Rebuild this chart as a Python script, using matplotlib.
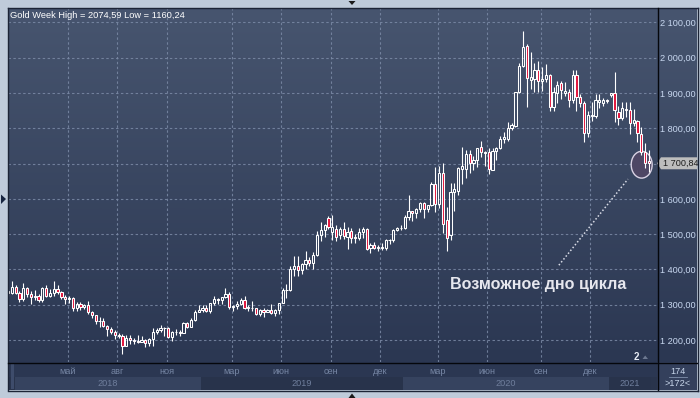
import numpy as np
import pandas as pd
import matplotlib
matplotlib.use("Agg")
import matplotlib.pyplot as plt
from matplotlib.patches import Rectangle, Ellipse, Polygon
from matplotlib.transforms import blended_transform_factory

plt.rcParams['font.family'] = ['Liberation Sans', 'DejaVu Sans']

# ---------------- data (weekly OHLC) ----------------
bar_dates = (list(pd.date_range('2018-01-15', '2019-12-30', freq='W-MON'))
             + [pd.Timestamp('2019-12-31'), pd.Timestamp('2020-01-02')]
             + list(pd.date_range('2020-01-06', '2020-12-28', freq='W-MON'))
             + [pd.Timestamp('2020-12-31'), pd.Timestamp('2021-01-01')]
             + list(pd.date_range('2021-01-04', '2021-03-08', freq='W-MON')))

opens = [
    # 2018
    1338, 1332, 1349, 1333, 1315, 1347, 1330, 1322, 1324, 1313,
    1347, 1325, 1332, 1345, 1336, 1323, 1315, 1320, 1291, 1301,
    1294, 1299, 1278, 1270, 1253, 1255, 1241, 1230, 1223, 1214,
    1212, 1184, 1206, 1201, 1197, 1194, 1200, 1191, 1203, 1222,
    1227, 1235, 1233, 1209, 1222, 1222, 1221, 1248, 1238, 1257,
    1280,
    # 2019
    1286, 1290, 1282, 1304, 1317, 1314, 1322, 1329, 1293, 1297,
    1302, 1312, 1292, 1291, 1290, 1275, 1286, 1280, 1286, 1277,
    1284, 1305, 1341, 1341, 1400, 1409, 1399, 1416, 1426, 1419,
    1440, 1497, 1513, 1546, 1507, 1516, 1497, 1516, 1493, 1509,
    1490, 1488, 1507, 1514, 1460, 1469, 1461, 1462, 1460, 1482,
    1484, 1512, 1517, 1518,
    # 2020 - 2021
    1550, 1565, 1559, 1571, 1589, 1570, 1584, 1643, 1586, 1674,
    1540, 1497, 1620, 1622, 1684, 1684, 1727, 1702, 1711, 1746,
    1730, 1733, 1682, 1736, 1743, 1771, 1771, 1800, 1806, 1904,
    1977, 2033, 1937, 1940, 1964, 1934, 1940, 1951, 1860, 1899,
    1927, 1899, 1904, 1880, 1951, 1890, 1871, 1786, 1836, 1836,
    1875, 1871, 1880, 1894, 1899, 1847, 1828, 1856, 1852, 1814,
    1822, 1784, 1733, 1707,
]
highs = [
    1344, 1366, 1355, 1340, 1362, 1351, 1338, 1341, 1329, 1350,
    1355, 1345, 1366, 1355, 1339, 1327, 1326, 1322, 1308, 1307,
    1303, 1310, 1282, 1271, 1265, 1262, 1243, 1236, 1228, 1220,
    1217, 1214, 1214, 1207, 1214, 1211, 1204, 1207, 1233, 1234,
    1243, 1237, 1237, 1226, 1231, 1229, 1250, 1252, 1262, 1284,
    1298,
    1298, 1298, 1305, 1326, 1319, 1322, 1346, 1335, 1299, 1311,
    1320, 1325, 1298, 1310, 1291, 1288, 1290, 1289, 1303, 1288,
    1306, 1348, 1358, 1411, 1439, 1437, 1419, 1453, 1434, 1450,
    1510, 1535, 1530, 1552, 1554, 1525, 1520, 1535, 1519, 1517,
    1499, 1518, 1519, 1517, 1476, 1479, 1469, 1475, 1486, 1487,
    1515, 1521, 1525, 1553,
    1611, 1567, 1574, 1591, 1592, 1584, 1649, 1689, 1692, 1703,
    1578, 1646, 1645, 1690, 1747, 1738, 1738, 1722, 1745, 1765,
    1736, 1745, 1744, 1746, 1779, 1789, 1818, 1815, 1904, 1984,
    2075, 2040, 2017, 1985, 1992, 1973, 1983, 1953, 1917, 1933,
    1933, 1932, 1910, 1965, 1965, 1898, 1876, 1848, 1875, 1896,
    1896, 1886, 1884, 1900, 1960, 1863, 1875, 1875, 1875, 1855,
    1823, 1805, 1758, 1738,
]
lows = [
    1326, 1331, 1331, 1307, 1311, 1321, 1303, 1314, 1309, 1308,
    1323, 1322, 1325, 1330, 1315, 1302, 1304, 1282, 1281, 1286,
    1289, 1275, 1261, 1245, 1238, 1237, 1211, 1218, 1204, 1206,
    1160, 1183, 1190, 1189, 1192, 1193, 1180, 1183, 1182, 1218,
    1222, 1211, 1207, 1196, 1215, 1211, 1220, 1234, 1237, 1255,
    1278,
    1279, 1278, 1276, 1298, 1303, 1302, 1320, 1289, 1281, 1289,
    1298, 1287, 1281, 1281, 1270, 1267, 1266, 1278, 1275, 1267,
    1275, 1305, 1320, 1340, 1381, 1382, 1386, 1402, 1411, 1400,
    1437, 1480, 1491, 1515, 1482, 1480, 1485, 1487, 1459, 1474,
    1476, 1483, 1488, 1456, 1446, 1457, 1452, 1456, 1455, 1472,
    1477, 1508, 1512, 1516,
    1540, 1536, 1546, 1563, 1547, 1562, 1581, 1562, 1575, 1504,
    1451, 1483, 1567, 1610, 1643, 1659, 1672, 1683, 1691, 1718,
    1693, 1671, 1681, 1711, 1741, 1757, 1764, 1795, 1804, 1900,
    1975, 1861, 1911, 1902, 1902, 1907, 1930, 1849, 1848, 1873,
    1883, 1891, 1860, 1873, 1850, 1860, 1762, 1776, 1820, 1829,
    1858, 1864, 1872, 1890, 1817, 1810, 1823, 1831, 1785, 1807,
    1760, 1725, 1687, 1676,
]
closes = [
    1332, 1349, 1333, 1315, 1347, 1330, 1322, 1324, 1313, 1347,
    1325, 1332, 1345, 1336, 1323, 1315, 1320, 1291, 1301, 1294,
    1299, 1278, 1270, 1253, 1255, 1241, 1230, 1223, 1214, 1212,
    1184, 1206, 1201, 1197, 1194, 1200, 1191, 1203, 1222, 1227,
    1233, 1233, 1209, 1222, 1222, 1221, 1248, 1238, 1257, 1280,
    1286,
    1290, 1282, 1304, 1317, 1314, 1322, 1329, 1293, 1297, 1302,
    1312, 1292, 1291, 1290, 1275, 1286, 1280, 1286, 1277, 1284,
    1305, 1341, 1341, 1400, 1409, 1399, 1416, 1426, 1419, 1440,
    1497, 1513, 1527, 1519, 1521, 1493, 1514, 1494, 1507, 1488,
    1492, 1507, 1514, 1458, 1469, 1461, 1463, 1463, 1482, 1484,
    1512, 1517, 1518, 1550,
    1565, 1559, 1571, 1589, 1570, 1584, 1643, 1586, 1674, 1530,
    1489, 1620, 1628, 1688, 1692, 1728, 1702, 1709, 1745, 1734,
    1731, 1685, 1736, 1744, 1771, 1775, 1800, 1810, 1904, 1977,
    2031, 1942, 1946, 1964, 1934, 1940, 1952, 1860, 1904, 1922,
    1908, 1905, 1880, 1951, 1889, 1871, 1786, 1838, 1839, 1880,
    1880, 1880, 1876, 1899, 1852, 1828, 1857, 1852, 1814, 1823,
    1786, 1733, 1701, 1700.84,
]

month_keys = [(2018, 5), (2018, 8), (2018, 11), (2019, 3), (2019, 6), (2019, 9),
              (2019, 12), (2020, 3), (2020, 6), (2020, 9), (2020, 12)]
month_labels = ['май', 'авг', 'ноя', 'мар', 'июн', 'сен', 'дек', 'мар', 'июн', 'сен', 'дек']
years = [2018, 2019, 2020, 2021]
price_ticks = list(range(1200, 2101, 100))
title_text = 'Gold Week High = 2074,59 Low = 1160,24'
note_text = 'Возможное дно цикла'

# ---------------- figure layout (pixel based) ----------------
W, H = 700, 398
fig = plt.figure(figsize=(W / 100, H / 100), dpi=100)
fig.patch.set_facecolor('#bfcbda')


def frac(x0, y0, x1, y1):
    return [x0 / W, 1 - y1 / H, (x1 - x0) / W, (y1 - y0) / H]


def fmt(v):
    return f"{v:,.2f}".replace(',', ' ').replace('.', ',')


# gradient background for plot + price scale
bg = fig.add_axes(frac(8, 8, 697, 362))
g = np.linspace(0, 1, 256)[:, None, None]
c_top = np.array([71, 85, 111]) / 255
c_bot = np.array([43, 55, 82]) / 255
img = c_top[None, None, :] * (1 - g) + c_bot[None, None, :] * g
bg.imshow(img, aspect='auto', extent=[0, 1, 0, 1])
bg.axis('off')

# bottom time band
band = fig.add_axes(frac(8, 362, 697, 390))
band.set_xlim(8, 697)
band.set_ylim(390, 362)
band.axis('off')

# main price axes
ax = fig.add_axes(frac(8, 8, 657, 362))
ax.set_facecolor('none')
for s in ax.spines.values():
    s.set_visible(False)

n = len(closes)
xs = np.arange(n)
bar_px = 3.815
ax.set_xlim(0, 649 / bar_px)
ax.set_ylim(1137.6, 2141)

o = np.array(opens, float)
h = np.array(highs, float)
l = np.array(lows, float)
c = np.array(closes, float)
lo_b = np.minimum(o, c)
hi_b = np.maximum(o, c)
up = c >= o
last = c[-1]

# grid + ticks
dates = pd.DatetimeIndex(bar_dates)
tick_pos = []
for (yy, mm) in month_keys:
    idx = np.where((dates.year == yy) & (dates.month == mm))[0][0]
    tick_pos.append(idx - 0.4)
ax.set_xticks(tick_pos)
ax.set_xticklabels(month_labels)
ax.set_yticks(price_ticks)
# the label hidden under the last-price tag is left blank
ax.set_yticklabels(['' if abs(v - last) < 25 else fmt(v) for v in price_ticks])
ax.yaxis.tick_right()
ax.tick_params(axis='y', length=0, pad=2.2, labelsize=6.6, labelcolor='#c8d8f0')
ax.tick_params(axis='x', length=0, pad=3.4, labelsize=6.6, labelcolor='#7686a4')
ax.grid(True, color='#7b8aa6', linestyle=(0, (2.2, 2.2)), linewidth=0.8, alpha=0.85)
ax.set_axisbelow(True)

# possible-bottom ellipse (behind candles)
ell = Ellipse((n - 2.9, last - 4), width=5.5, height=76,
              facecolor='#4e4765', edgecolor='#d9d2e4', linewidth=1.0, zorder=2)
ax.add_patch(ell)

# candles
ax.vlines(xs, l, lo_b, color='white', linewidth=0.8, zorder=3)
ax.vlines(xs, hi_b, h, color='white', linewidth=0.8, zorder=3)
face = ['none' if u else '#e2163d' for u in up]
ax.bar(xs, np.maximum(hi_b - lo_b, 1.5), bottom=lo_b, width=0.58,
       color=face, edgecolor='white', linewidth=0.75, zorder=4)

# annotation
ax.plot([144.4, 162.5], [1412, 1656], color='#d8dbe6', linewidth=1.1,
        linestyle=(0, (1, 1.4)), zorder=5)
ax.text(115.9, 1358, note_text, color='#e6e7ee', fontsize=11.6,
        fontweight='bold', ha='left', va='center', zorder=6)

# title
fig.text(10 / W, 1 - 15 / H, title_text, color='white', fontsize=6.7, ha='left', va='center')

# last price tag
tr = blended_transform_factory(fig.transFigure, ax.transData)
dy = 6 / 0.353
tag = Polygon([(657 / W, last), (661 / W, last + dy), (697 / W, last + dy),
               (697 / W, last - dy), (661 / W, last - dy)], closed=True,
              transform=tr, facecolor='#bdbdbd', edgecolor='none')
fig.add_artist(tag)
fig.text(663 / W, last, fmt(last), transform=tr, fontsize=6.6,
         color='#1c1c1c', ha='left', va='center')


def px_of(i):
    return ax.transData.transform([(i, 1500)])[0, 0]


# bottom band: month row + year row
band.add_patch(Rectangle((8, 362), 649, 15, facecolor='#2b3752', edgecolor='none'))
band.add_patch(Rectangle((8, 377), 649, 13, facecolor='#29344c', edgecolor='none'))
year_cols = ['#36435f', '#28334b']
for k, yy in enumerate(years):
    ids = np.where(dates.year == yy)[0]
    x0 = max(px_of(ids[0] - 0.5), 15)
    x1 = min(px_of(ids[-1] + 0.5), 657)
    band.add_patch(Rectangle((x0, 377), x1 - x0, 13, facecolor=year_cols[k % 2], edgecolor='none'))
    band.text((x0 + x1) / 2, 383.5, str(yy), color='#6f7e9c', fontsize=6.6, ha='center', va='center')
band.add_patch(Rectangle((11, 364), 3, 25, facecolor='#3e4c6b', edgecolor='none'))
band.add_patch(Rectangle((657, 362), 40, 28, facecolor='#34405c', edgecolor='none'))
band.text(677.5, 371, '174', color='#c8d6ea', fontsize=6.6, ha='center', va='center')
band.plot([669, 687], [377, 377], color='#8090aa', linewidth=0.6)
band.text(677.5, 383, '>172<', color='#c8d6ea', fontsize=6.6, ha='center', va='center')

# overlay: frames, small markers
ov = fig.add_axes([0, 0, 1, 1], zorder=10)
ov.set_xlim(0, W)
ov.set_ylim(H, 0)
ov.axis('off')
ov.patch.set_alpha(0)
ov.plot([7.5, 697.5], [7.5, 7.5], color='#1c2436', linewidth=1.0)
ov.plot([7.5, 7.5], [7.5, 390], color='#1c2436', linewidth=1.0)
ov.plot([8, 697], [362.5, 362.5], color='#05070c', linewidth=1.0)
ov.plot([657.5, 657.5], [8, 390], color='#05070c', linewidth=1.0)
ov.plot([697.5, 697.5], [7.5, 390.5], color='#1c2436', linewidth=1.0)
ov.plot([7.5, 697.5], [390.5, 390.5], color='#1c2436', linewidth=1.0)
ov.add_patch(Polygon([(348.5, 1), (355.5, 1), (352, 5)], closed=True, facecolor='#1a1a1a', edgecolor='none'))
ov.add_patch(Polygon([(348.5, 398), (355.5, 398), (352, 393.5)], closed=True, facecolor='#1a1a1a', edgecolor='none'))
ov.add_patch(Polygon([(1, 194.5), (1, 204), (6, 199)], closed=True, facecolor='#172440', edgecolor='none'))
ov.text(636.5, 357.5, '2', color='#e8ecf4', fontsize=7, fontweight='bold', ha='center', va='center')
ov.add_patch(Polygon([(642.5, 359), (648, 359), (645.2, 355.5)], closed=True, facecolor='#6c7890', edgecolor='none'))

fig.savefig('out.png', dpi=100, facecolor=fig.get_facecolor())
